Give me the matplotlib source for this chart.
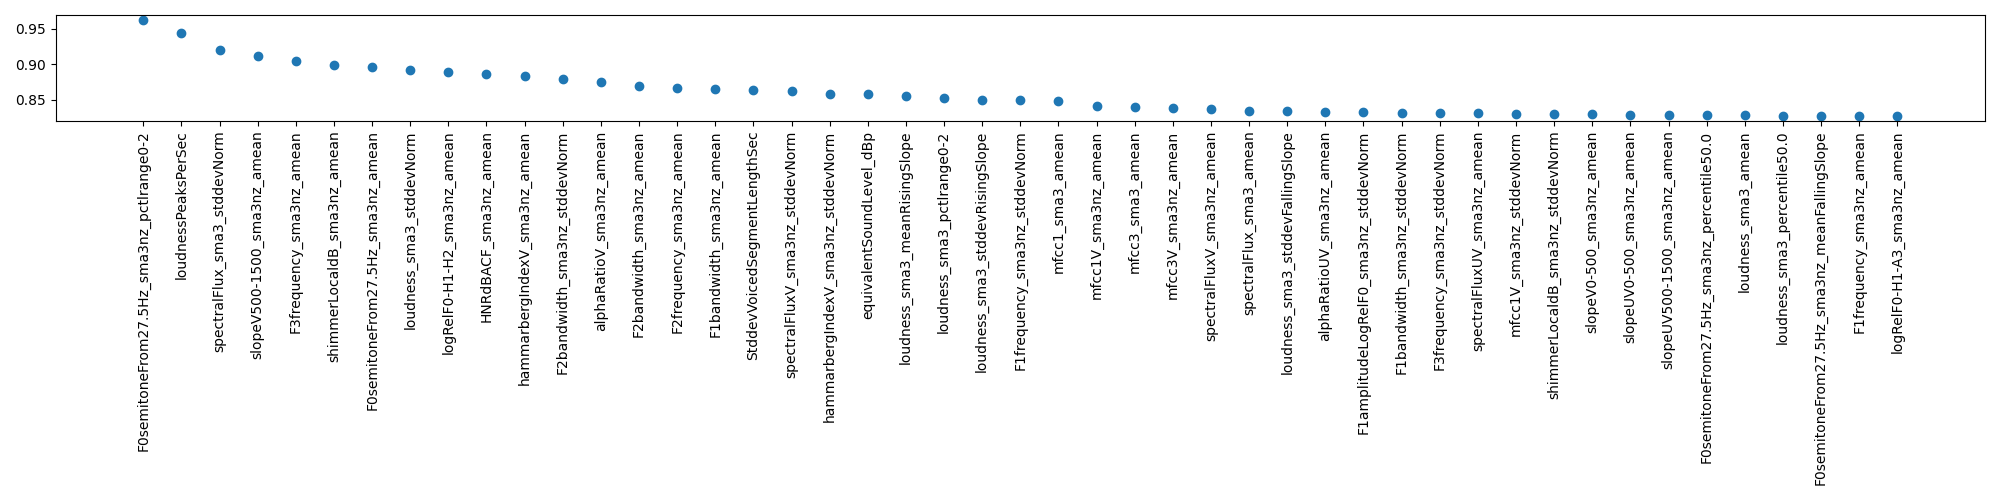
import matplotlib
matplotlib.use('Agg')
import matplotlib.pyplot as plt

features = [
    'F0semitoneFrom27.5Hz_sma3nz_pctlrange0-2',
    'loudnessPeaksPerSec',
    'spectralFlux_sma3_stddevNorm',
    'slopeV500-1500_sma3nz_amean',
    'F3frequency_sma3nz_amean',
    'shimmerLocaldB_sma3nz_amean',
    'F0semitoneFrom27.5Hz_sma3nz_amean',
    'loudness_sma3_stddevNorm',
    'logRelF0-H1-H2_sma3nz_amean',
    'HNRdBACF_sma3nz_amean',
    'hammarbergIndexV_sma3nz_amean',
    'F2bandwidth_sma3nz_stddevNorm',
    'alphaRatioV_sma3nz_amean',
    'F2bandwidth_sma3nz_amean',
    'F2frequency_sma3nz_amean',
    'F1bandwidth_sma3nz_amean',
    'StddevVoicedSegmentLengthSec',
    'spectralFluxV_sma3nz_stddevNorm',
    'hammarbergIndexV_sma3nz_stddevNorm',
    'equivalentSoundLevel_dBp',
    'loudness_sma3_meanRisingSlope',
    'loudness_sma3_pctlrange0-2',
    'loudness_sma3_stddevRisingSlope',
    'F1frequency_sma3nz_stddevNorm',
    'mfcc1_sma3_amean',
    'mfcc1V_sma3nz_amean',
    'mfcc3_sma3_amean',
    'mfcc3V_sma3nz_amean',
    'spectralFluxV_sma3nz_amean',
    'spectralFlux_sma3_amean',
    'loudness_sma3_stddevFallingSlope',
    'alphaRatioUV_sma3nz_amean',
    'F1amplitudeLogRelF0_sma3nz_stddevNorm',
    'F1bandwidth_sma3nz_stddevNorm',
    'F3frequency_sma3nz_stddevNorm',
    'spectralFluxUV_sma3nz_amean',
    'mfcc1V_sma3nz_stddevNorm',
    'shimmerLocaldB_sma3nz_stddevNorm',
    'slopeV0-500_sma3nz_amean',
    'slopeUV0-500_sma3nz_amean',
    'slopeUV500-1500_sma3nz_amean',
    'F0semitoneFrom27.5Hz_sma3nz_percentile50.0',
    'loudness_sma3_amean',
    'loudness_sma3_percentile50.0',
    'F0semitoneFrom27.5Hz_sma3nz_meanFallingSlope',
    'F1frequency_sma3nz_amean',
    'logRelF0-H1-A3_sma3nz_amean',
]

scores = [
    0.9629, 0.9443, 0.9200, 0.9114, 0.9043, 0.8986, 0.8957, 0.8914,
    0.8886, 0.8857, 0.8829, 0.8790, 0.8748, 0.8700, 0.8671, 0.8648,
    0.8633, 0.8619, 0.8586, 0.8586, 0.8557, 0.8529, 0.8500, 0.8500,
    0.8486, 0.8414, 0.8400, 0.8386, 0.8371, 0.8343, 0.8343, 0.8329,
    0.8329, 0.8314, 0.8314, 0.8314, 0.8300, 0.8300, 0.8300, 0.8286,
    0.8286, 0.8286, 0.8286, 0.8271, 0.8271, 0.8271, 0.8271,
]

plt.figure(figsize=(20, 5))
plt.scatter(features, scores)
plt.xticks(rotation=90)
plt.tight_layout()
plt.savefig('out.png', dpi=100)
